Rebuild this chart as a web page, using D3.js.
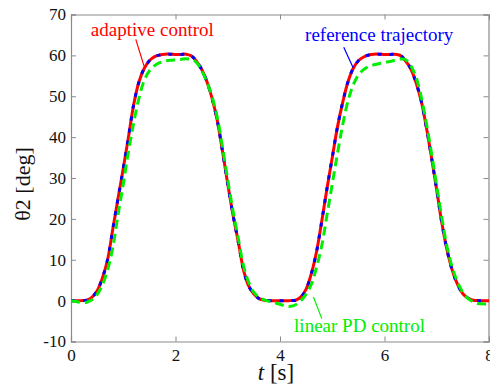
<!DOCTYPE html>
<html><head><meta charset="utf-8"><script src="https://cdn.jsdelivr.net/npm/d3@7"></script></head>
<body style="margin:0">
<svg id="chart" width="490" height="386"></svg>
<script>
// ---- data ----
const time = d3.range(0, 81).map(i => +(i / 10).toFixed(1));

const reference = [
  0, 0, 0, 0.1, 0.8, 2.4, 5.5, 10, 17.5, 25,
  32.3, 40, 48, 53.5, 56.8, 58.7, 59.7, 60.1, 60.3, 60.3,
  60.2, 60.2, 60.3, 59.9, 58.6, 56.6, 53.6, 49.5, 44, 36.5,
  28.5, 21, 14.5, 7.6, 3.6, 1.6, 0.5, 0.1, 0, 0,
  0, 0, 0, 0.1, 0.9, 2.8, 6.6, 12, 19.5, 27.5,
  35, 42.5, 48.5, 53.5, 56.8, 58.7, 59.6, 60.1, 60.3, 60.3,
  60.2, 60.2, 60.3, 60.0, 58.7, 56.8, 53.5, 49, 42.5, 35,
  27, 18.8, 12.2, 7.3, 3.9, 1.7, 0.6, 0.1, 0, 0,
  0
];

const adaptive = [
  0, 0, 0, 0.1, 0.8, 2.4, 5.5, 10, 17.5, 25,
  32.3, 40, 48, 53.5, 56.8, 58.7, 59.7, 60.1, 60.3, 60.3,
  60.2, 60.2, 60.3, 59.9, 58.6, 56.6, 53.6, 49.5, 44, 36.5,
  28.5, 21, 14.5, 7.6, 3.6, 1.6, 0.5, 0.1, 0, 0,
  0, 0, 0, 0.1, 0.9, 2.8, 6.6, 12, 19.5, 27.5,
  35, 42.5, 48.5, 53.5, 56.8, 58.7, 59.6, 60.1, 60.3, 60.3,
  60.2, 60.2, 60.3, 60.0, 58.7, 56.8, 53.5, 49, 42.5, 35,
  27, 18.8, 12.2, 7.3, 3.9, 1.7, 0.6, 0.1, 0, 0,
  0
];

const linearPD = [
  0, -0.2, -0.5, -0.4, 0.2, 1.5, 3.8, 7.5, 13, 21,
  28.5, 36.5, 43.5, 49.5, 53.8, 56.2, 57.5, 58.2, 58.6, 58.8,
  58.9, 59.0, 59.2, 59.0, 58.3, 56.3, 53.5, 49.8, 44.8, 37.5,
  29.5, 22, 15.3, 8.6, 4.5, 2.0, 0.8, 0.2, -0.2, -0.5,
  -0.9, -1.3, -1.4, -1.0, 0.0, 1.6, 4.0, 8.2, 13.5, 21,
  28.5, 36, 43, 48.8, 52.7, 55.2, 56.5, 57.3, 57.7, 58.0,
  58.3, 58.5, 58.8, 59.1, 59.0, 57.5, 54.8, 50, 43.5, 36,
  28, 20, 13, 8, 4.5, 2.0, 0.5, -0.3, -0.7, -0.8,
  -0.8
];

const xTicks = [0, 2, 4, 6, 8];
const yTicks = [-10, 0, 10, 20, 30, 40, 50, 60, 70];

const annotations = [
  { text: "adaptive control", color: "#ff0000", tx: 0.38, ty: 64.8, x1: 1.24, y1: 63.9, x2: 1.40, y2: 57.3 },
  { text: "reference trajectory", color: "#0000ff", tx: 4.48, ty: 63.5, x1: 5.22, y1: 62.0, x2: 5.40, y2: 57.0 },
  { text: "linear PD control", color: "#00ee00", tx: 4.27, ty: -7.7, x1: 4.64, y1: 0.9, x2: 4.80, y2: -4.4 }
];

// ---- layout ----
const W = 490, H = 386;
const margin = { top: 14.5, right: 1, bottom: 44.5, left: 71 };
const svg = d3.select("#chart");

const x = d3.scaleLinear().domain([0, 8]).range([margin.left, W - margin.right]);
const y = d3.scaleLinear().domain([-10, 70]).range([H - margin.bottom, margin.top]);

const axisColor = "#8a8a8a";
const tickLen = 5;

svg.append("clipPath").attr("id", "clip")
  .append("rect")
  .attr("x", x(0)).attr("y", y(70))
  .attr("width", x(8) - x(0)).attr("height", y(-10) - y(70));

const fmt = d => String(d);
const xAxisB = d3.axisBottom(x).tickValues(xTicks).tickSize(-tickLen).tickPadding(7).tickFormat(fmt);
const xAxisT = d3.axisTop(x).tickValues(xTicks).tickSize(-tickLen).tickFormat("");
const yAxisL = d3.axisLeft(y).tickValues(yTicks).tickSize(-tickLen).tickPadding(5).tickFormat(fmt);
const yAxisR = d3.axisRight(y).tickValues(yTicks).tickSize(-tickLen).tickFormat("");

function setFont(sel, size) {
  sel.style("font-family", `'Liberation Serif', monospace`).style("font-size", size + "px");
}

function styleAxis(g) {
  g.attr("font-family", null).attr("font-size", null);
  g.select(".domain").attr("stroke", axisColor).attr("stroke-width", 1.2);
  g.selectAll(".tick line").attr("stroke", axisColor).attr("stroke-width", 1);
  g.selectAll(".tick text").attr("fill", "#111").call(setFont, 17);
}

svg.append("g").attr("transform", `translate(0,${y(-10)})`).call(xAxisB).call(styleAxis);
svg.append("g").attr("transform", `translate(0,${y(70)})`).call(xAxisT).call(styleAxis);
svg.append("g").attr("transform", `translate(${x(0)},0)`).call(yAxisL).call(styleAxis);
svg.append("g").attr("transform", `translate(${x(8) - 0.5},0)`).call(yAxisR).call(styleAxis);

const line = vals => d3.line()
  .x((d, i) => x(time[i]))
  .y(d => y(d))
  .curve(d3.curveCatmullRom.alpha(0.5))(vals);

const plot = svg.append("g").attr("clip-path", "url(#clip)");

plot.append("path").attr("d", line(adaptive))
  .attr("fill", "none").attr("stroke", "#ff0000").attr("stroke-width", 3);
plot.append("path").attr("d", line(reference))
  .attr("fill", "none").attr("stroke", "#0000ff").attr("stroke-width", 3)
  .attr("stroke-dasharray", "4,8");
plot.append("path").attr("d", line(linearPD))
  .attr("fill", "none").attr("stroke", "#00ee00").attr("stroke-width", 3)
  .attr("stroke-dasharray", "9,5");

annotations.forEach(a => {
  svg.append("line")
    .attr("x1", x(a.x1)).attr("y1", y(a.y1))
    .attr("x2", x(a.x2)).attr("y2", y(a.y2))
    .attr("stroke", a.color).attr("stroke-width", 1.2);
  svg.append("text")
    .attr("x", x(a.tx)).attr("y", y(a.ty))
    .attr("fill", a.color)
    .call(setFont, 19)
    .text(a.text);
});

svg.append("text")
  .attr("transform", `translate(30,184) rotate(-90)`)
  .attr("text-anchor", "middle")
  .call(setFont, 22)
  .attr("fill", "#111")
  .text("θ2 [deg]");

const xl = svg.append("text")
  .attr("x", 276).attr("y", 380)
  .attr("text-anchor", "middle")
  .call(setFont, 23)
  .attr("fill", "#111");
xl.append("tspan").style("font-style", "italic").text("t");
xl.append("tspan").text(" [s]");
</script>
</body>
</html>
